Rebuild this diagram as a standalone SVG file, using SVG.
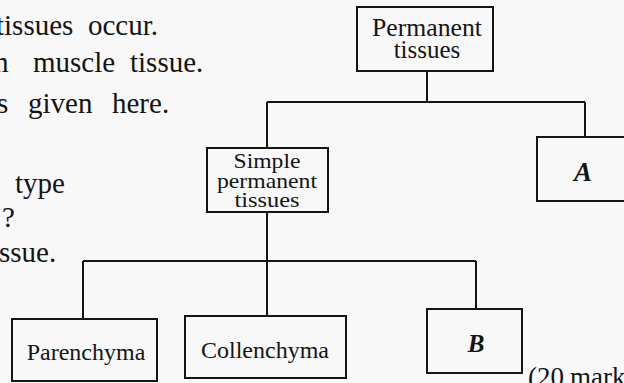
<svg xmlns="http://www.w3.org/2000/svg" width="624" height="383" viewBox="0 0 624 383">
<style>
.bg{fill:#f8f8f8}
.box{fill:none;stroke:#141414;stroke-width:2}
.ln{fill:none;stroke:#141414;stroke-width:2}
.body{font-family:"Liberation Serif","Times New Roman",serif;font-size:29px;fill:#141414}
.lbl{font-family:"Liberation Serif","Times New Roman",serif;font-size:24px;fill:#141414;text-anchor:middle}
.top{font-size:25px}
.simple{font-size:22px}
.var{font-family:"Liberation Serif","Times New Roman",serif;font-size:27px;font-style:italic;font-weight:bold;fill:#141414;text-anchor:middle}
</style>
<rect class="bg" x="0" y="0" width="624" height="383"/>
<g id="body-text">
<text class="body" x="-4" y="35">tissues</text>
<text class="body" x="88" y="35">occur.</text>
<text class="body" x="-6" y="72">h</text>
<text class="body" x="33" y="72">muscle</text>
<text class="body" x="130" y="72">tissue.</text>
<text class="body" x="-3" y="113">s</text>
<text class="body" x="28" y="113">given</text>
<text class="body" x="112" y="113">here.</text>
<text class="body" x="15" y="193">type</text>
<text class="body" x="2" y="227">?</text>
<text class="body" x="-1" y="262">ssue.</text>
<text class="body" x="528" y="386" style="font-size:27px">(20</text>
<text class="body" x="570" y="386" style="font-size:27px">marks)</text>
</g>
<g id="connectors">
<path class="ln" d="M427 71V102M267 102H585M267 102V148M585 102V137"/>
<path class="ln" d="M267 212V316M83 261H476M83 261V319M476 261V309"/>
</g>
<g id="permanent">
<rect class="box" x="357" y="7" width="136" height="64"/>
<text class="lbl top" x="427" y="36" textLength="110" lengthAdjust="spacingAndGlyphs">Permanent</text>
<text class="lbl top" x="427" y="58">tissues</text>
</g>
<g id="simple">
<rect class="box" x="207" y="148" width="121" height="64"/>
<text class="lbl simple" x="267" y="168" textLength="67" lengthAdjust="spacingAndGlyphs">Simple</text>
<text class="lbl simple" x="267" y="188" textLength="100" lengthAdjust="spacingAndGlyphs">permanent</text>
<text class="lbl simple" x="267" y="207" textLength="65" lengthAdjust="spacingAndGlyphs">tissues</text>
</g>
<g id="A">
<rect class="box" x="537" y="137" width="100" height="64"/>
<text class="var" x="583" y="181">A</text>
</g>
<g id="parenchyma">
<rect class="box" x="12" y="319" width="145" height="62"/>
<text class="lbl" x="86" y="360">Parenchyma</text>
</g>
<g id="collenchyma">
<rect class="box" x="185" y="316" width="161" height="62"/>
<text class="lbl" x="265" y="358">Collenchyma</text>
</g>
<g id="B">
<rect class="box" x="427" y="309" width="95" height="64"/>
<text class="var" x="476" y="352" style="font-size:25px">B</text>
</g>
</svg>
